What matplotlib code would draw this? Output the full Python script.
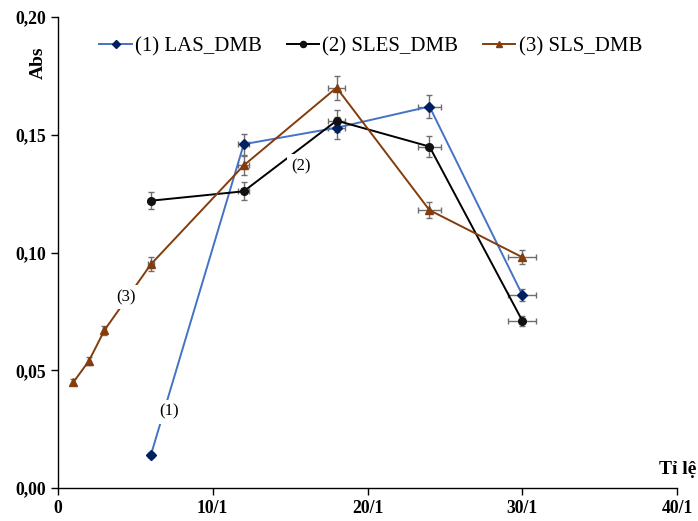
import matplotlib
matplotlib.use("Agg")
import matplotlib.pyplot as plt
from matplotlib.ticker import FuncFormatter, FixedLocator

plt.rcParams['font.family'] = ['Liberation Serif', 'DejaVu Serif']

# Data
las_x = [6, 12, 18, 24, 30]
las_y = [0.014, 0.146, 0.153, 0.162, 0.082]
las_yerr = [0.0005, 0.0044, 0.0046, 0.0049, 0.0025]
las_xerr = [0.18, 0.36, 0.54, 0.72, 0.90]

sles_x = [6, 12, 18, 24, 30]
sles_y = [0.122, 0.126, 0.156, 0.145, 0.071]
sles_yerr = [0.0037, 0.0038, 0.0047, 0.0044, 0.0021]
sles_xerr = [0.18, 0.36, 0.54, 0.72, 0.90]

sls_x = [1, 2, 3, 6, 12, 18, 24, 30]
sls_y = [0.045, 0.054, 0.067, 0.095, 0.137, 0.170, 0.118, 0.098]
sls_yerr = [0.0014, 0.0016, 0.0020, 0.0029, 0.0041, 0.0051, 0.0035, 0.0029]
sls_xerr = [0.03, 0.06, 0.09, 0.18, 0.36, 0.54, 0.72, 0.90]

x_ticks = [0, 10, 20, 30, 40]
x_ticklabels = ['0', '10/1', '20/1', '30/1', '40/1']
y_ticks = [0.00, 0.05, 0.10, 0.15, 0.20]

fig = plt.figure(figsize=(6.98, 5.21), dpi=100)
ax = fig.add_axes([0.0831, 0.0633, 0.887, 0.904])

ecol = '#6e6e6e'
series = [
    (las_x, las_y, las_xerr, las_yerr, '#4472C4', '#002060', 'D', 5.0, '(1) LAS_DMB'),
    (sles_x, sles_y, sles_xerr, sles_yerr, '#000000', '#111111', 'o', 5.5, '(2) SLES_DMB'),
    (sls_x, sls_y, sls_xerr, sls_yerr, '#843C0C', '#843C0C', '^', 6.0, '(3) SLS_DMB'),
]
handles = []
for xs, ys, xe, ye, lc, mc, mk, ms, lab in series:
    ax.errorbar(xs, ys, xerr=xe, yerr=ye, fmt='none', ecolor=ecol,
                elinewidth=1.0, capsize=2.4, capthick=1.0, zorder=2)
    h, = ax.plot(xs, ys, color=lc, lw=1.4, marker=mk, ms=ms,
                 markerfacecolor=mc, markeredgecolor=mc, zorder=3, label=lab)
    handles.append(h)

# Inline labels
for tx, ty, t in [(7.19, 0.0324, '(1)'), (15.68, 0.1367, '(2)'), (4.39, 0.0811, '(3)')]:
    ax.text(tx, ty, t, ha='center', va='center', fontsize=12, color='#000000',
            bbox=dict(facecolor='white', edgecolor='none', pad=3), zorder=5)

ax.set_xlim(0, 40)
ax.set_ylim(0, 0.20)
ax.xaxis.set_major_locator(FixedLocator(x_ticks))
ax.set_xticklabels(x_ticklabels)
ax.yaxis.set_major_locator(FixedLocator(y_ticks))
ax.yaxis.set_major_formatter(FuncFormatter(lambda v, p: f"{v:.2f}".replace('.', ',')))

for s in ['top', 'right']:
    ax.spines[s].set_visible(False)
for s in ['left', 'bottom']:
    ax.spines[s].set_linewidth(1.0)
    ax.spines[s].set_color('black')
ax.tick_params(axis='both', direction='out', length=5, width=1, labelsize=12.7)
for lbl in ax.get_xticklabels() + ax.get_yticklabels():
    lbl.set_fontweight('bold')

fig.text(0.055, 0.880, 'Abs', rotation=90, ha='center', va='center',
         fontsize=14, fontweight='bold')
fig.text(0.997, 0.098, 'Tỉ lệ', ha='right', va='center', fontsize=14, fontweight='bold')

leg = fig.legend(handles=handles, loc='center', bbox_to_anchor=(0.531, 0.910), ncol=3,
                 frameon=False, fontsize=15, handlelength=1.55, handletextpad=0.15,
                 columnspacing=1.2, markerscale=0.8)

fig.savefig('out.png', dpi=100)
